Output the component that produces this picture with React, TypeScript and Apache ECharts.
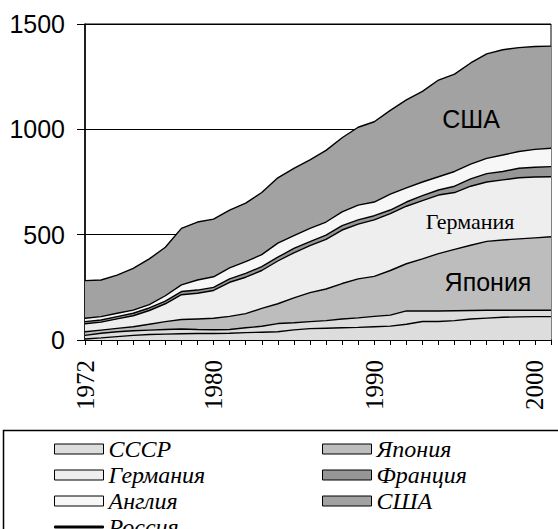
import React, { useEffect, useRef } from "react";
import * as echarts from "echarts";

const years = [
  "1972", "1973", "1974", "1975", "1976", "1977", "1978", "1979", "1980", "1981",
  "1982", "1983", "1984", "1985", "1986", "1987", "1988", "1989", "1990", "1991",
  "1992", "1993", "1994", "1995", "1996", "1997", "1998", "1999", "2000", "2001",
];
const shownYears = ["1972", "1980", "1990", "2000"];
const yTicks = { min: 0, max: 1500, interval: 500 };

const ussr = [22, 32, 39, 44, 47, 50, 52, 50, 49, 50, 58, 65, 78, 82, 87, 92, 100, 105, 112, 118, 138, 138, 138, 139, 140, 141, 141, 141, 141, 141];
const japan = [17, 15, 16, 19, 28, 37, 45, 50, 54, 62, 67, 85, 94, 118, 138, 150, 168, 185, 190, 212, 224, 247, 272, 291, 310, 327, 334, 339, 344, 349];
const germany = [38, 38, 45, 52, 65, 85, 118, 122, 132, 162, 173, 180, 203, 214, 223, 236, 254, 260, 268, 270, 273, 277, 278, 270, 280, 282, 285, 290, 289, 285];
const france = [10, 10, 11, 12, 12, 13, 15, 15, 15, 16, 18, 18, 18, 21, 19, 20, 21, 20, 20, 17, 20, 23, 24, 30, 35, 40, 40, 45, 46, 48];
const england = [16, 16, 16, 15, 16, 25, 32, 48, 50, 52, 56, 57, 67, 60, 63, 62, 65, 70, 65, 75, 67, 65, 63, 70, 70, 72, 78, 80, 85, 87];
const usa = [179, 174, 181, 198, 217, 230, 268, 275, 274, 275, 278, 295, 310, 320, 325, 340, 352, 370, 381, 398, 418, 430, 459, 462, 480, 496, 500, 493, 488, 485];
const russia = [5, 10, 16, 22, 26, 28, 30, 31, 31, 32, 35, 37, 39, 48, 54, 56, 58, 60, 63, 66, 75, 88, 88, 92, 100, 104, 108, 110, 111, 111];

const stacked = [
  { name: "СССР", data: ussr, color: "#dddddd" },
  { name: "Япония", data: japan, color: "#bdbdbd" },
  { name: "Германия", data: germany, color: "#eeeeee" },
  { name: "Франция", data: france, color: "#969696" },
  { name: "Англия", data: england, color: "#f7f7f7" },
  { name: "США", data: usa, color: "#a2a2a2" },
];

const SANS = "'Liberation Sans', Arial, sans-serif";
const SERIF = "'Liberation Serif', 'Times New Roman', serif";

export default function App() {
  const ref = useRef<HTMLDivElement>(null);
  useEffect(() => {
    if (!ref.current) return;
    const chart = echarts.init(ref.current, null, { renderer: "svg" });
    const legendText = {
      fontFamily: SERIF,
      fontStyle: "italic",
      fontSize: 24,
      color: "#000",
      lineHeight: 26,
    };
    const legendCommon = {
      orient: "vertical",
      icon: "rect",
      itemWidth: 49,
      itemHeight: 10,
      itemGap: 0,
      padding: 0,
      top: 436,
      height: 200,
      itemStyle: { borderColor: "#000", borderWidth: 1 },
      textStyle: legendText,
      selectedMode: false,
    };
    chart.setOption({
      animation: false,
      backgroundColor: "#fff",
      grid: {
        left: 85,
        right: 7,
        top: 24,
        height: 316,
        show: true,
        borderColor: "#000",
        borderWidth: 1,
      },
      xAxis: {
        type: "category",
        data: years,
        boundaryGap: false,
        axisLine: { lineStyle: { color: "#000", width: 1.5 } },
        axisTick: { show: true, interval: 0, length: 5, lineStyle: { color: "#000", width: 1 } },
        axisLabel: {
          interval: (_i: number, v: string) => shownYears.includes(v),
          rotate: 90,
          margin: 20,
          fontFamily: SERIF,
          fontSize: 25,
          color: "#000",
        },
        splitLine: { show: false },
      },
      yAxis: {
        type: "value",
        min: yTicks.min,
        max: yTicks.max,
        interval: yTicks.interval,
        axisLine: { show: true, lineStyle: { color: "#000", width: 1.5 } },
        axisTick: { show: true, length: 8, lineStyle: { color: "#000", width: 1 } },
        axisLabel: {
          margin: 20,
          fontFamily: SANS,
          fontSize: 25,
          color: "#000",
          formatter: (v: number) => String(v),
        },
        splitLine: { show: true, lineStyle: { color: "#000", width: 1 } },
      },
      legend: [
        {
          ...legendCommon,
          left: 54,
          data: [
            "СССР",
            "Германия",
            "Англия",
            { name: "Россия", icon: "path://M0,0H49V2H0Z" },
          ],
        },
        {
          ...legendCommon,
          left: 322,
          data: ["Япония", "Франция", "США"],
        },
      ],
      graphic: [
        {
          type: "rect",
          shape: { x: 3.5, y: 430.5, width: 600, height: 200 },
          style: { fill: "none", stroke: "#000", lineWidth: 1.5 },
          z: 0,
        },
        {
          type: "text",
          x: 471,
          y: 119,
          z: 100,
          style: { text: "США", fontFamily: SANS, fontSize: 25, fill: "#000", align: "center", verticalAlign: "middle" },
        },
        {
          type: "text",
          x: 470,
          y: 221,
          z: 100,
          style: { text: "Германия", fontFamily: SERIF, fontSize: 22, fill: "#000", align: "center", verticalAlign: "middle" },
        },
        {
          type: "text",
          x: 488,
          y: 282,
          z: 100,
          style: { text: "Япония", fontFamily: SANS, fontSize: 25, fill: "#000", align: "center", verticalAlign: "middle" },
        },
      ],
      series: [
        ...stacked.map((s) => ({
          name: s.name,
          type: "line",
          stack: "total",
          data: s.data,
          symbol: "none",
          showSymbol: false,
          color: s.color,
          itemStyle: { color: s.color },
          lineStyle: { color: "#000", width: 1.4 },
          areaStyle: { color: s.color, opacity: 1 },
        })),
        {
          name: "Россия",
          type: "line",
          data: russia,
          symbol: "none",
          showSymbol: false,
          color: "#000",
          itemStyle: { color: "#000" },
          lineStyle: { color: "#000", width: 1.4 },
          z: 5,
        },
      ],
    });
    return () => chart.dispose();
  }, []);
  return (
    <div
      ref={ref}
      style={{ position: "fixed", left: 0, top: 0, width: 558, height: 529, background: "#fff" }}
    />
  );
}
